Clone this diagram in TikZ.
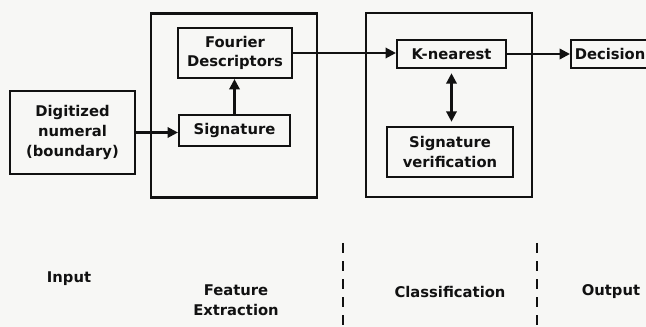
\documentclass[tikz,border=0pt]{standalone}
\usepackage{fontspec}
\setmainfont{DejaVu Sans}
\usetikzlibrary{arrows.meta, positioning, calc}
\definecolor{ink}{HTML}{111111}
\definecolor{paper}{HTML}{F7F7F5}

\begin{document}
\begin{tikzpicture}[
    x=0.025cm, y=-0.025cm,
    block/.style={rectangle, draw=ink, line width=1.5pt, text=ink,
                  align=center, inner sep=2pt,
                  font=\fontsize{10.5}{14}\selectfont\bfseries},
    stage/.style={rectangle, draw=ink, line width=1.5pt,
                  minimum width=4.15cm, minimum height=4.6cm},
    caption/.style={text=ink, align=center,
                    font=\fontsize{10.5}{14.5}\selectfont\bfseries},
    arrow/.style={-{Triangle[length=2.6mm, width=2.6mm]}, line width=1.6pt, draw=ink},
    divider/.style={line width=1.5pt, draw=ink, dash pattern=on 0.25cm off 0.2cm}
  ]
    \useasboundingbox[fill=paper] (0,0) rectangle (646,327);

    % Stages
    \node[stage] (feat) at (234,105.5) {};
    \node[stage] (class) at (449,105) {};

    % Blocks
    \node[block, minimum width=3.125cm, minimum height=2.075cm] (digit) at (72.5,132.5)
      {Digitized\\numeral\\(boundary)};
    \node[block, minimum width=2.85cm, minimum height=1.25cm] (fourier) at (235,53)
      {Fourier\\Descriptors};
    \node[block, minimum width=2.775cm, minimum height=0.775cm] (sig) at (234.5,130.5)
      {Signature};
    \node[block, minimum width=2.725cm, minimum height=0.7cm] (knn) at (451.5,54)
      {K-nearest};
    \node[block, minimum width=3.15cm, minimum height=1.25cm] (sigver) at (450,152)
      {Signature\\verification};
    \node[block, minimum width=1.95cm, minimum height=0.7cm, anchor=west] (decision) at (570,54)
      {Decision};

    % Arrows
    \draw[arrow] (digit.east) -- (digit.east -| sig.west);
    \draw[arrow] (sig.north) -- (sig.north |- fourier.south);
    \draw[arrow] (fourier.east) -- (fourier.east -| knn.west);
    \draw[arrow, {Triangle[length=2.6mm, width=2.6mm]}-{Triangle[length=2.6mm, width=2.6mm]},
          shorten <=3pt, shorten >=3pt] (knn.south) -- (knn.south |- sigver.north);
    \draw[arrow] (knn.east) -- (knn.east -| decision.west);

    % Stage labels
    \node[caption] (lin) at (69,279) {Input};
    \node[caption] (lfeat) at (236,300) {Feature\\Extraction};
    \node[caption] (lclass) at (450,292) {Classification};
    \node[caption] (lout) at (611,292) {Output};

    % Dividers
    \coordinate (d1top) at (343,243);
    \coordinate (d1bot) at (343,327);
    \coordinate (d2top) at (537,243);
    \coordinate (d2bot) at (537,327);
    \draw[divider] (d1top) -- (d1bot);
    \draw[divider] (d2top) -- (d2bot);
  \end{tikzpicture}
\end{document}
